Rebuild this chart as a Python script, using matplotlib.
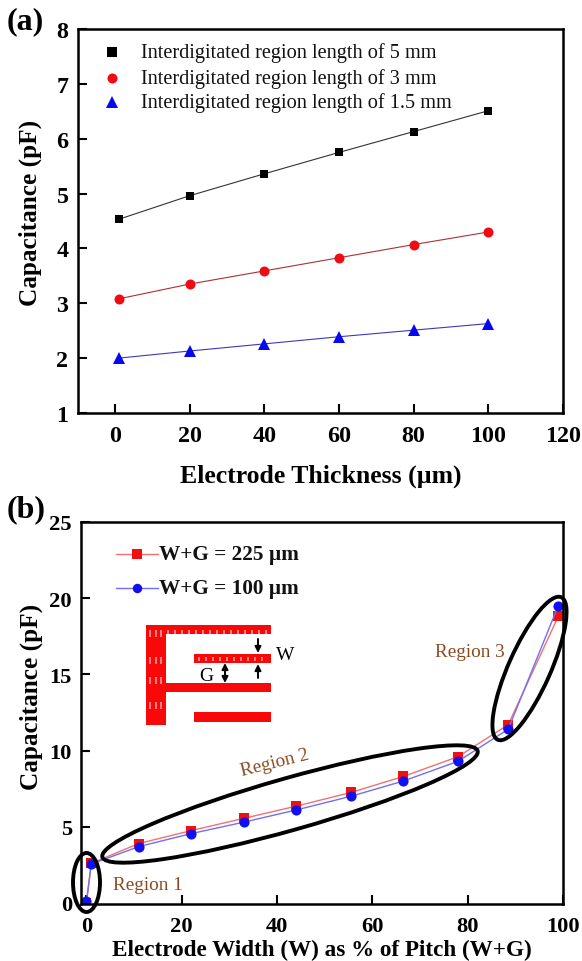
import matplotlib
matplotlib.use("Agg")
import matplotlib.pyplot as plt
from matplotlib.patches import Ellipse, Rectangle

plt.rcParams["font.family"] = ["Liberation Serif", "DejaVu Serif"]
plt.rcParams["font.weight"] = "bold"

W_PX, H_PX = 582, 962

# panel (a)
thickness = [1, 20, 40, 60, 80, 100]
cap_5mm = [4.53, 4.96, 5.36, 5.75, 6.13, 6.51]
cap_3mm = [3.08, 3.35, 3.59, 3.83, 4.07, 4.30]
cap_15mm = [2.00, 2.13, 2.26, 2.39, 2.51, 2.63]
a_labels = ["Interdigitated region length of 5 mm",
            "Interdigitated region length of 3 mm",
            "Interdigitated region length of 1.5 mm"]

# panel (b)
width_pct = [0, 1, 11, 22, 33, 44, 55.5, 66.5, 78, 88.5, 99]
cap_225 = [0.0, 2.6, 3.9, 4.75, 5.55, 6.35, 7.25, 8.3, 9.6, 11.7, 18.8]
cap_100 = [0.1, 2.55, 3.7, 4.55, 5.3, 6.1, 7.0, 8.0, 9.3, 11.4, 19.5]
b_labels = ["W+G = 225 \u00b5m", "W+G = 100 \u00b5m"]


def axes_px(fig, left, top, right, bottom):
    return fig.add_axes([left / W_PX, 1 - bottom / H_PX,
                         (right - left) / W_PX, (bottom - top) / H_PX])


def style_axes(ax, size, xpad):
    for s in ax.spines.values():
        s.set_linewidth(1.8)
    ax.tick_params(direction="in", width=1.5, length=6.5, labelsize=size)
    ax.tick_params(axis="x", pad=xpad)
    ax.tick_params(axis="y", pad=6.5)


fig = plt.figure(figsize=(W_PX / 100, H_PX / 100), dpi=100, facecolor="white")

# ── (a) ──
ax1 = axes_px(fig, 77.5, 30, 563, 414)
ax1.plot(thickness, cap_5mm, "-", color="#333333", lw=0.8)
ax1.plot(thickness, cap_3mm, "-", color="#b03030", lw=0.8)
ax1.plot(thickness, cap_15mm, "-", color="#3a3ac0", lw=0.8)
ax1.plot(thickness, cap_5mm, "s", color="black", ms=6.2, mew=0)
ax1.plot(thickness, cap_3mm, "o", color="#f00a14", ms=7.2, mew=0)
ax1.plot(thickness, cap_15mm, "^", color="#0808f0", ms=8.5, mew=0)
ax1.set_xlim(-10, 120)
ax1.set_ylim(1, 8)
ax1.set_xticks([0, 20, 40, 60, 80, 100, 120])
ax1.set_yticks(range(1, 9))
style_axes(ax1, 17.3, 8.5)
ax1.set_xlabel("Electrode Thickness (\u00b5m)", fontsize=18.5, fontweight="bold", labelpad=12.5)
ax1.set_ylabel("Capacitance (pF)", fontsize=18.2, fontweight="bold")
ax1.yaxis.set_label_coords(-0.073, 0.523)

# ── (b) ──
ax2 = axes_px(fig, 81, 523, 563, 905)
ax2.plot(width_pct, cap_225, "-s", color="#f47070", mfc="#f01010", mew=0, lw=1, ms=6.5)
ax2.plot(width_pct, cap_100, "-o", color="#7070f0", mfc="#1010f0", mew=0, lw=1, ms=7.3)
ax2.set_xlim(-1.15, 100)
ax2.set_ylim(0 - 0.07, 25)
ax2.set_xticks([0, 20, 40, 60, 80, 100])
ax2.set_yticks([0, 5, 10, 15, 20, 25])
style_axes(ax2, 16.2, 9)
ax2.set_xlabel("Electrode Width (W) as % of Pitch (W+G)", fontsize=16.7, fontweight="bold", labelpad=1.5)
ax2.set_ylabel("Capacitance (pF)", fontsize=18.2, fontweight="bold")
ax2.yaxis.set_label_coords(-0.079, 0.545)

# overlay in picture pixels for annotations, legends and the inset sketch
ov = fig.add_axes([0, 0, 1, 1], facecolor="none")
ov.set_xlim(0, W_PX)
ov.set_ylim(H_PX, 0)
ov.axis("off")

ov.text(7, 22, "(a)", fontsize=23, va="center", ha="left")
ov.text(7, 510, "(b)", fontsize=23, va="center", ha="left")

# legend (a)
for y, mk, c, ms, lab in zip([53, 79, 103], ["s", "o", "^"],
                             ["black", "#f00a14", "#0808f0"], [6.5, 7.2, 8.5], a_labels):
    ov.plot([112], [y], mk, color=c, ms=ms, mew=0)
    ov.text(141, y, lab, fontsize=14.6, fontweight="normal", va="center", color="#111111")

# legend (b)
for y, mk, lc, c, lab in zip([555, 589], ["s", "o"], ["#f47070", "#7070f0"],
                             ["#f01010", "#1010f0"], b_labels):
    ov.plot([116, 158], [y, y], color=lc, lw=1)
    ov.plot([137], [y], mk, color=c, ms=6.8, mew=0)
    ov.text(159, y, lab, fontsize=15.3, va="center", color="#111111")

# region ellipses
for xy, w, h, ang in [((86.5, 883.5), 59, 27, 90),
                      ((290, 805), 390, 52, -15.8),
                      ((529.5, 669.5), 156, 42, -66)]:
    ov.add_patch(Ellipse(xy, w, h, angle=ang, fill=False, ec="black", lw=2.8, zorder=5))

brown = "#8a4a20"
for x, y, t, rot in [(147.5, 886, "Region 1", 0), (275, 763, "Region 2", 14),
                     (469.5, 653, "Region 3", 0)]:
    ov.text(x, y, t, fontsize=13.8, fontweight="normal", color=brown, va="center", ha="center",
            rotation=rot, rotation_mode="anchor")

# inset electrode sketch
for x, y, w, h in [(146, 626, 20, 100), (146, 626, 125, 9), (194, 655, 77, 9),
                   (166, 684, 105, 9), (194, 713, 77, 10)]:
    ov.add_patch(Rectangle((x, y), w, h, fc="#f80808", ec="none"))
for x in range(167, 268, 7):
    ov.add_patch(Rectangle((x, 631), 1.5, 3.5, fc="#ff8080", ec="none"))
for x in range(198, 268, 7):
    ov.add_patch(Rectangle((x, 658), 1.5, 3.5, fc="#ff8080", ec="none"))
for x in (149, 155, 160):
    for y in (631, 658, 678, 703):
        ov.add_patch(Rectangle((x, y), 1.5, 7, fc="#ff8080", ec="none"))
for y0, y1, x in [(640, 654, 258), (679, 665, 258)]:
    ov.annotate("", xy=(x, y1), xytext=(x, y0),
                arrowprops=dict(arrowstyle="-|>", color="black", lw=1.4, mutation_scale=9,
                                shrinkA=0, shrinkB=0))
ov.annotate("", xy=(225, 684), xytext=(225, 664),
            arrowprops=dict(arrowstyle="<|-|>", color="black", lw=1.4, mutation_scale=9,
                            shrinkA=0, shrinkB=0))
ov.text(276, 656, "W", fontsize=14, fontweight="normal", va="center")
ov.text(199.5, 677, "G", fontsize=14, fontweight="normal", va="center")

fig.savefig("out.png", dpi=100)
